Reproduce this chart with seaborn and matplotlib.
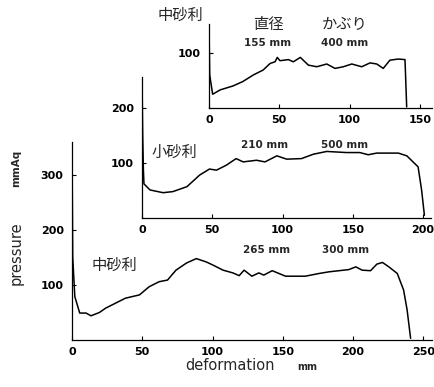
import matplotlib
matplotlib.use("Agg")
import matplotlib.pyplot as plt
import seaborn as sns
import pandas as pd

# top curve: 中砂利, 直径 155 mm, かぶり 400 mm
top_x = [0, 0.5, 2.6, 8, 17, 24, 31.5, 38.5, 43.5, 47, 48.6, 50.5, 56.5, 60, 65, 70.7,
         76.7, 83.8, 89.7, 95.6, 101.6, 108.7, 114.6, 119.4, 124, 128.8, 134.7, 139.5, 140.7]
top_y = [150, 60, 25, 33, 40, 48, 60, 69, 81, 84, 92, 86, 88, 84, 92, 78,
         75, 80, 72, 75, 80, 75, 82, 80, 72, 87, 89, 88, 2]

# middle curve: 小砂利, 210 mm / 500 mm
mid_x = [0, 0.5, 1.0, 1.4, 5.7, 15, 22, 32, 41, 48, 53, 60, 67, 72, 81.5, 87.5, 96,
         103, 113.5, 122, 131.5, 145.5, 155, 161, 167, 182.5, 188.5, 196.5, 199, 201]
mid_y = [255, 150, 87, 62, 51, 46, 48, 57, 78, 89, 87, 96, 108, 102, 105, 102, 113,
         107, 108, 116, 121, 119, 119, 115, 118, 118, 113, 93, 51, 5]

# bottom curve: 中砂利, 265 mm / 300 mm
bot_x = [0, 0.5, 2, 5.5, 10, 13.5, 19.5, 24, 31, 38, 48, 55, 62, 68, 74, 81.5, 88.5,
         95.5, 100.5, 107.5, 114.5, 119, 122.5, 128, 133, 136.5, 142.5, 152, 166, 176,
         183, 190, 197, 202, 206.5, 212.5, 217, 221, 225.5, 231.5, 236, 238.5, 241]
bot_y = [355, 151, 79, 49, 49, 44, 50, 58, 67, 76, 82, 97, 106, 109, 127, 140, 148,
         142, 136, 127, 122, 117, 127, 116, 122, 118, 126, 116, 116, 121,
         124, 126, 128, 133, 127, 126, 138, 141, 133, 121, 91, 55, 3]

sns.set_style("ticks")
plt.rcParams['font.family'] = ['DejaVu Sans', 'Noto Sans CJK JP']

W, H = 434, 387
fig = plt.figure(figsize=(W / 100, H / 100), dpi=100)
SX, SY = 1.405, 0.55  # pixels per data unit


def panel(ox, oy, xmax, ymax, xs, ys, xticks, yticks):
    ax = fig.add_axes([ox / W, 1 - oy / H, xmax * SX / W, ymax * SY / H])
    ax.patch.set_alpha(0)
    df = pd.DataFrame({'x': xs, 'y': ys})
    sns.lineplot(data=df, x='x', y='y', ax=ax, color='black', linewidth=1.1,
                 estimator=None, sort=False)
    ax.set_xlim(0, xmax)
    ax.set_ylim(0, ymax)
    ax.set_xticks(xticks)
    ax.set_yticks(yticks)
    ax.set_xlabel('')
    ax.set_ylabel('')
    sns.despine(ax=ax)
    for s in ['left', 'bottom']:
        ax.spines[s].set_linewidth(0.9)
        ax.spines[s].set_color('black')
    ax.tick_params(direction='in', length=3, width=0.8, labelsize=8, colors='black')
    ax.tick_params(axis='y', pad=6)
    ax.tick_params(axis='x', pad=5)
    for lab in ax.get_xticklabels() + ax.get_yticklabels():
        lab.set_fontweight('bold')
    return ax


panel(72, 340, 256, 360, bot_x, bot_y, [0, 50, 100, 150, 200, 250], [100, 200, 300])
panel(142, 218, 206, 256, mid_x, mid_y, [0, 50, 100, 150, 200], [100, 200])
panel(209, 108, 159, 153, top_x, top_y, [0, 50, 100, 150], [100])


def ftext(px, py, s, **kw):
    fig.text(px / W, 1 - py / H, s, ha='center', va='center', **kw)


jp = dict(family=['Noto Sans CJK JP', 'DejaVu Sans'], fontsize=11)
num = dict(fontsize=7.5, fontweight='bold')

ftext(180, 15, '中砂利', **jp)
ftext(268, 25, '直径', **jp)
ftext(345, 25, 'かぶり', **jp)
ftext(268, 43, '155 mm', **num)
ftext(345, 43, '400 mm', **num)

ftext(174, 152, '小砂利', **jp)
ftext(265, 145, '210 mm', **num)
ftext(345, 145, '500 mm', **num)

ftext(114, 265, '中砂利', **jp)
ftext(267, 250, '265 mm', **num)
ftext(346, 250, '300 mm', **num)

ftext(230, 366, 'deformation', fontsize=10.5)
ftext(307, 367, 'mm', fontsize=7, fontweight='bold')
ftext(16, 253, 'pressure', fontsize=10.5, rotation=90)
ftext(16, 168, 'mmAq', fontsize=7.5, fontweight='bold', rotation=90)

fig.savefig('out.png', dpi=100)
